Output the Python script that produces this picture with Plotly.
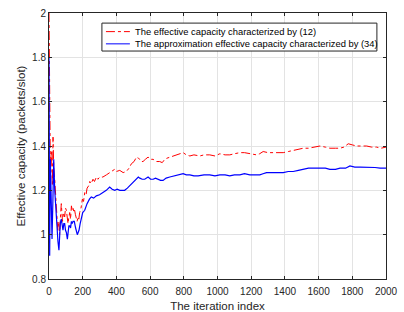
import plotly.graph_objects as go

# Red: effective capacity characterized by (12)
red_x = [0, 3, 8, 14, 20, 24, 28, 34, 40, 45, 52, 58, 63, 68, 73, 80, 86, 93, 98, 103, 108, 113, 118, 123, 128, 133, 138, 143, 148, 152, 157, 162, 167, 172, 177, 182, 190, 198, 205, 212, 220, 226, 235, 242, 250, 261, 270, 281, 290, 301, 320, 341, 360, 380, 390, 400, 420, 440, 459, 475, 489, 505, 519, 530, 539, 548, 558, 572, 588, 600, 618, 635, 657, 672, 687, 700, 717, 735, 756, 775, 796, 815, 836, 860, 895, 920, 954, 985, 1014, 1045, 1073, 1100, 1133, 1160, 1192, 1215, 1232, 1250, 1271, 1300, 1331, 1360, 1390, 1420, 1449, 1480, 1509, 1540, 1568, 1590, 1608, 1640, 1667, 1700, 1727, 1750, 1776, 1800, 1826, 1855, 1885, 1915, 1944, 1970, 2000]
red_y = [2.00, 1.60, 1.30, 1.38, 1.22, 1.44, 1.30, 1.25, 1.18, 1.10, 1.02, 1.06, 1.00, 1.08, 1.14, 1.06, 1.10, 1.08, 1.12, 1.11, 1.06, 1.05, 1.08, 1.10, 1.07, 1.13, 1.11, 1.12, 1.10, 1.11, 1.09, 1.07, 1.06, 1.08, 1.07, 1.10, 1.12, 1.16, 1.15, 1.19, 1.18, 1.21, 1.22, 1.24, 1.23, 1.25, 1.24, 1.26, 1.25, 1.26, 1.26, 1.27, 1.28, 1.29, 1.295, 1.285, 1.29, 1.28, 1.285, 1.30, 1.32, 1.33, 1.35, 1.345, 1.34, 1.33, 1.33, 1.34, 1.35, 1.34, 1.34, 1.33, 1.33, 1.325, 1.34, 1.345, 1.35, 1.355, 1.36, 1.365, 1.37, 1.36, 1.355, 1.36, 1.355, 1.36, 1.36, 1.355, 1.365, 1.36, 1.36, 1.365, 1.37, 1.37, 1.365, 1.36, 1.36, 1.365, 1.375, 1.37, 1.37, 1.37, 1.37, 1.375, 1.38, 1.385, 1.39, 1.39, 1.395, 1.40, 1.40, 1.395, 1.39, 1.39, 1.39, 1.395, 1.41, 1.405, 1.40, 1.40, 1.40, 1.395, 1.395, 1.39, 1.395]

# Blue: approximation effective capacity characterized by (34)
blue_x = [0, 2, 4, 8, 12, 18, 23, 28, 34, 40, 44, 49, 53, 59, 63, 67, 73, 78, 83, 88, 93, 98, 103, 109, 114, 118, 123, 128, 133, 138, 143, 150, 158, 163, 168, 173, 178, 185, 192, 200, 212, 220, 226, 240, 251, 265, 281, 300, 321, 340, 360, 375, 390, 405, 420, 435, 449, 465, 479, 500, 519, 530, 539, 553, 568, 578, 588, 603, 618, 632, 647, 662, 677, 695, 717, 745, 776, 796, 815, 836, 860, 885, 920, 954, 985, 1014, 1045, 1073, 1100, 1133, 1160, 1192, 1220, 1251, 1270, 1291, 1320, 1350, 1390, 1420, 1449, 1480, 1509, 1540, 1570, 1608, 1640, 1667, 1700, 1727, 1760, 1786, 1815, 1846, 1875, 1905, 1935, 1965, 2000]
blue_y = [1.80, 1.50, 0.905, 1.34, 1.10, 0.98, 1.15, 1.34, 1.20, 1.12, 1.05, 1.00, 0.97, 0.93, 1.00, 1.05, 1.07, 1.04, 1.02, 1.05, 1.05, 1.02, 1.01, 0.98, 1.02, 1.04, 1.04, 1.03, 1.06, 1.05, 1.06, 1.06, 1.03, 1.01, 1.00, 1.01, 1.02, 1.05, 1.08, 1.10, 1.11, 1.13, 1.14, 1.16, 1.17, 1.165, 1.175, 1.18, 1.19, 1.20, 1.215, 1.205, 1.20, 1.205, 1.20, 1.20, 1.20, 1.21, 1.22, 1.235, 1.25, 1.26, 1.255, 1.25, 1.25, 1.255, 1.26, 1.25, 1.25, 1.255, 1.25, 1.245, 1.245, 1.255, 1.26, 1.265, 1.27, 1.275, 1.27, 1.27, 1.265, 1.265, 1.27, 1.27, 1.265, 1.27, 1.27, 1.265, 1.27, 1.27, 1.275, 1.27, 1.27, 1.27, 1.275, 1.28, 1.28, 1.28, 1.28, 1.285, 1.285, 1.29, 1.295, 1.30, 1.30, 1.30, 1.30, 1.295, 1.295, 1.30, 1.30, 1.31, 1.305, 1.305, 1.305, 1.305, 1.303, 1.30, 1.30]

x_ticks = [0, 200, 400, 600, 800, 1000, 1200, 1400, 1600, 1800, 2000]
y_ticks = [0.8, 1.0, 1.2, 1.4, 1.6, 1.8, 2.0]
y_tick_text = ["0.8", "1", "1.2", "1.4", "1.6", "1.8", "2"]

names = ["The effective capacity characterized by (12)",
         "The approximation effective capacity characterized by (34)"]
colors = ["#ff0000", "#0000ff"]
dashes = ["dashdot", "solid"]

ink = "#262626"
font = "Liberation Sans, Arial, sans-serif"

fig = go.Figure()
fig.add_trace(go.Scatter(x=red_x, y=red_y, mode="lines", name=names[0], showlegend=False,
                         line=dict(color=colors[0], width=1, dash=dashes[0])))
fig.add_trace(go.Scatter(x=blue_x, y=blue_y, mode="lines", name=names[1], showlegend=False,
                         line=dict(color=colors[1], width=1.2, dash=dashes[1])))

axis_common = dict(showline=True, linecolor=ink, linewidth=1, mirror="ticks",
                   ticks="inside", ticklen=3, tickcolor=ink, automargin=False,
                   showgrid=True, gridcolor="#e3e3e3", gridwidth=1,
                   zeroline=False, tickfont=dict(family=font, size=10, color=ink))

fig.update_xaxes(range=[0, 2000], tickvals=x_ticks, ticklabelstandoff=3,
                 title=dict(text="The iteration index", font=dict(family=font, size=11.5, color=ink), standoff=5),
                 **axis_common)
fig.update_yaxes(range=[0.8, 2.0], tickvals=y_ticks, ticktext=y_tick_text,
                 title=dict(text="Effective capacity (packets/slot)", font=dict(family=font, size=11.5, color=ink), standoff=4),
                 **axis_common)

# Custom compact legend box (MATLAB style)
lx0, lx1, ly0, ly1 = 0.157, 0.973, 0.857, 0.962
shapes = [dict(type="rect", xref="paper", yref="paper", x0=lx0, x1=lx1, y0=ly0, y1=ly1,
               line=dict(color=ink, width=1), fillcolor="white", layer="above")]
annotations = []
entry_y = [0.930, 0.884]
for name, c, d, yy in zip(names, colors, dashes, entry_y):
    shapes.append(dict(type="line", xref="paper", yref="paper", x0=0.169, x1=0.240, y0=yy, y1=yy,
                       line=dict(color=c, width=1, dash=d), layer="above"))
    annotations.append(dict(xref="paper", yref="paper", x=0.249, y=yy, xanchor="left", yanchor="middle",
                            text=name, showarrow=False,
                            font=dict(family=font, size=9.4, color="#000000")))

fig.update_layout(
    width=404, height=312,
    margin=dict(l=49, r=18, t=13, b=33),
    paper_bgcolor="white", plot_bgcolor="white",
    showlegend=False,
    shapes=shapes, annotations=annotations,
)

fig.write_html("out.html", config={"displayModeBar": False},
               post_script="document.body.style.margin='0';document.body.style.overflow='hidden';")
